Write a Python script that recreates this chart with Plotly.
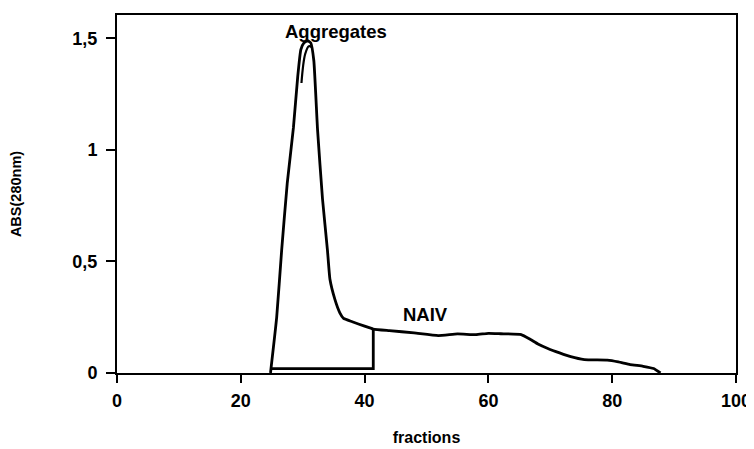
import plotly.graph_objects as go

# Elution profile (fraction number vs absorbance at 280 nm)
fractions = [24.8, 25.8, 26.6, 27.5, 28.5, 29.2, 29.7, 30.2, 30.8, 31.3, 31.8, 32.4,
             33.2, 34.0, 34.4, 35.2, 36.0, 36.6, 38.0, 40.0, 41.4, 44.0, 48.0, 51.9,
             55.0, 58.0, 60.0, 62.0, 65.3, 66.8, 68.0, 69.6, 71.5, 73.3, 75.5, 79.2,
             81.0, 82.9, 85.0, 86.7, 87.8]
absorbance = [0.00, 0.25, 0.55, 0.85, 1.10, 1.33, 1.45, 1.48, 1.49, 1.48, 1.40, 1.09,
              0.78, 0.55, 0.42, 0.33, 0.27, 0.245, 0.23, 0.21, 0.197, 0.19, 0.18, 0.168,
              0.175, 0.172, 0.178, 0.176, 0.172, 0.15, 0.13, 0.11, 0.09, 0.073, 0.06, 0.058,
              0.05, 0.038, 0.03, 0.02, 0.00]

# Outline of the aggregates pool (baseline + cut at fraction 41.4)
pool_x = [25.0, 41.4, 41.4]
pool_y = [0.02, 0.02, 0.197]

# Inner peak outline
inner_x = [29.8, 30.4, 31.0, 31.5]
inner_y = [1.30, 1.43, 1.465, 1.46]

labels = ["Aggregates", "NAIV"]
label_x = [35.4, 49.8]
label_y = [1.53, 0.262]

xticks = [0, 20, 40, 60, 80, 100]
yticks = [0, 0.5, 1, 1.5]
yticklabels = ["0", "0,5", "1", "1,5"]

FONT = "Liberation Sans"

fig = go.Figure()
fig.add_trace(go.Scatter(x=fractions, y=absorbance, mode="lines",
                         line=dict(color="black", width=2.8, shape="spline", smoothing=0.4),
                         showlegend=False, hoverinfo="skip"))
fig.add_trace(go.Scatter(x=pool_x, y=pool_y, mode="lines",
                         line=dict(color="black", width=2.8),
                         showlegend=False, hoverinfo="skip"))
fig.add_trace(go.Scatter(x=inner_x, y=inner_y, mode="lines",
                         line=dict(color="black", width=2.2, shape="spline"),
                         showlegend=False, hoverinfo="skip"))

for t, x, y in zip(labels, label_x, label_y):
    fig.add_annotation(x=x, y=y, text=t, showarrow=False,
                       font=dict(family=FONT, size=18.5, color="black", weight="bold"))

# page has an 8px body margin; figure sized so the whole chart fits the 754x449 window
fig.update_layout(
    width=746, height=441,
    margin=dict(l=109, r=18, t=7, b=76),
    paper_bgcolor="white", plot_bgcolor="white",
    font=dict(family=FONT, size=14, color="black", weight="bold"),
    showlegend=False,
)
fig.update_xaxes(range=[0, 100], tickvals=xticks, ticks="outside", ticklen=8,
                 tickwidth=2, tickcolor="black", showline=True, linecolor="black",
                 linewidth=2, mirror=True, showgrid=False, zeroline=False,
                 automargin=False, ticklabelstandoff=2,
                 title=dict(text="fractions", font=dict(family=FONT, size=16, weight="bold"),
                            standoff=22),
                 tickfont=dict(family=FONT, size=18, weight="bold"))
fig.update_yaxes(range=[0, 1.605], tickvals=yticks, ticktext=yticklabels, ticks="outside",
                 ticklen=9, tickwidth=2, tickcolor="black", showline=True,
                 linecolor="black", linewidth=2, mirror=True, showgrid=False,
                 zeroline=False, automargin=False, ticklabelstandoff=5,
                 title=dict(text="ABS(280nm)", font=dict(family=FONT, size=14.5, weight="bold"),
                            standoff=50),
                 tickfont=dict(family=FONT, size=18, weight="bold"))

fig.write_html("out.html")
